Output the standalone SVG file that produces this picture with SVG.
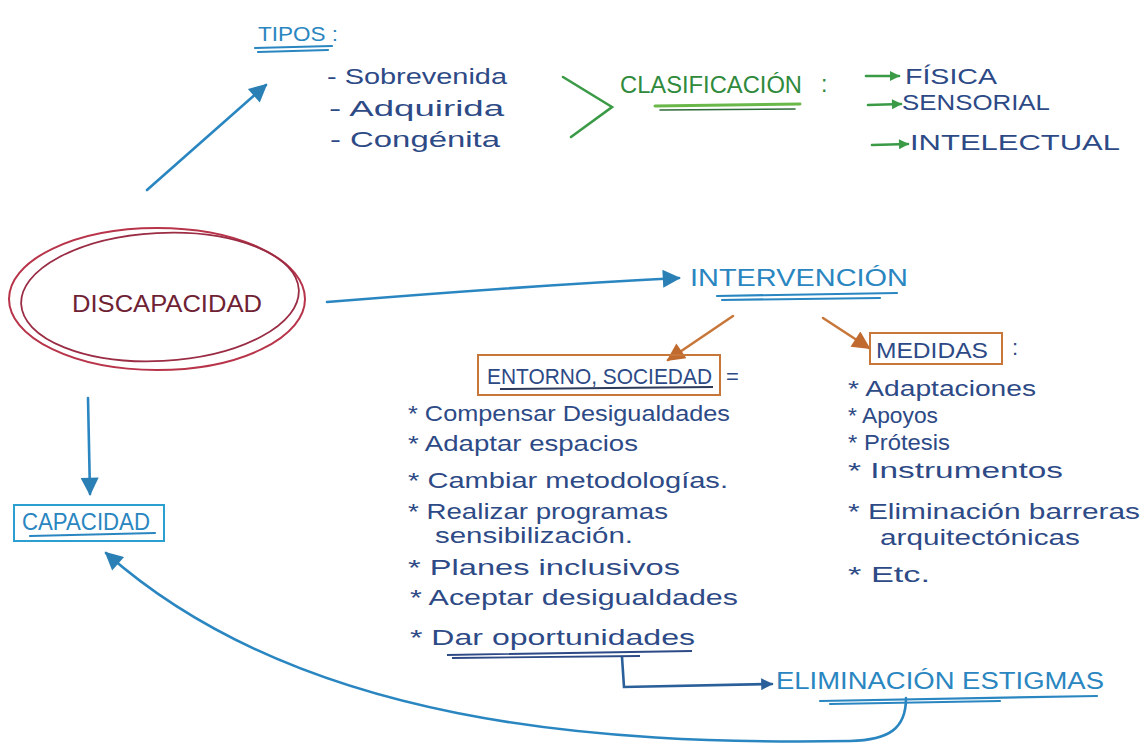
<svg xmlns="http://www.w3.org/2000/svg" width="1147" height="744" viewBox="0 0 1147 744">
<style>
text{font-family:"Liberation Sans","DejaVu Sans",sans-serif}
.nv{fill:#2d4a86;font-size:22px}
.bl{fill:#2a86c0;font-size:23px}
.gr{fill:#2f8a3c;font-size:23px}
.ul{fill:none;stroke:#2a86c0;stroke-width:2.2;stroke-linecap:round}
.cn{fill:none;stroke:#2a86c0;stroke-width:2.6;stroke-linecap:round}
.or{fill:none;stroke:#c8773a;stroke-width:2.6;stroke-linecap:round}
.gn{fill:none;stroke:#3a9a45;stroke-width:2.6;stroke-linecap:round}
</style>
<defs>
<marker id="ab" viewBox="0 0 10 10" refX="9" refY="5" markerWidth="20" markerHeight="18" markerUnits="userSpaceOnUse" orient="auto"><path d="M0,0 L10,5 L0,10 z" fill="#2a7fb5"/></marker>
<marker id="ao" viewBox="0 0 10 10" refX="9" refY="5" markerWidth="20" markerHeight="18" markerUnits="userSpaceOnUse" orient="auto"><path d="M0,0 L10,5 L0,10 z" fill="#c06a30"/></marker>
<marker id="ag" viewBox="0 0 10 10" refX="9" refY="5" markerWidth="12" markerHeight="10" markerUnits="userSpaceOnUse" orient="auto"><path d="M0,0 L10,5 L0,10 z" fill="#3a9a45"/></marker>
<marker id="ad" viewBox="0 0 10 10" refX="9" refY="5" markerWidth="16" markerHeight="12" markerUnits="userSpaceOnUse" orient="auto"><path d="M0,0 L10,5 L0,10 z" fill="#2a5f9a"/></marker>
</defs>
<rect width="1147" height="744" fill="#ffffff"/>

<g id="connectors">
<path class="cn" d="M147,190 L266,85" marker-end="url(#ab)"/>
<path class="cn" d="M327,302 C450,292 560,284 679,278" marker-end="url(#ab)"/>
<path class="cn" d="M88,398 L90,494" marker-end="url(#ab)"/>
<path class="cn" d="M906,698 C906,728 890,740 850,741 C600,745 300,725 106,553" marker-end="url(#ab)"/>
<path class="or" d="M733,316 L668,360" marker-end="url(#ao)"/>
<path class="or" d="M823,318 L869,348" marker-end="url(#ao)"/>
<path fill="none" stroke="#2a5f9a" stroke-width="2.6" stroke-linecap="round" d="M622,657 L624,687 L772,684" marker-end="url(#ad)"/>
<path class="gn" d="M866,76 L899,76" marker-end="url(#ag)"/>
<path class="gn" d="M868,105 L901,104" marker-end="url(#ag)"/>
<path class="gn" d="M872,145 L908,144" marker-end="url(#ag)"/>
</g>

<g id="tipos">
<text x="258" y="41" fill="#2a86c0" font-size="20" textLength="80" lengthAdjust="spacingAndGlyphs">TIPOS :</text>
<path class="ul" d="M255,48 L332,46 M258,52 L328,50"/>
<text class="nv" x="327" y="84" textLength="180" lengthAdjust="spacingAndGlyphs">- Sobrevenida</text>
<text class="nv" x="329" y="116" textLength="175" lengthAdjust="spacingAndGlyphs">- Adquirida</text>
<text class="nv" x="330" y="147" textLength="170" lengthAdjust="spacingAndGlyphs">- Congénita</text>
</g>

<g id="clasificacion">
<path class="gn" d="M563,77 L612,107 L571,137"/>
<text class="gr" x="620" y="93" textLength="182" lengthAdjust="spacingAndGlyphs">CLASIFICACIÓN</text>
<text class="gr" x="821" y="92" font-size="20">:</text>
<path d="M655,106 L800,104" stroke="#6ab84a" stroke-width="3" fill="none" stroke-linecap="round"/>
<path d="M660,110 L795,109" stroke="#2f6a3a" stroke-width="1.6" fill="none" stroke-linecap="round"/>
</g>
<g id="fisica"><text class="nv" x="905" y="84" font-size="20" textLength="92" lengthAdjust="spacingAndGlyphs">FÍSICA</text></g>
<g id="sensorial"><text class="nv" x="902" y="110" font-size="20" textLength="148" lengthAdjust="spacingAndGlyphs">SENSORIAL</text></g>
<g id="intelectual"><text class="nv" x="910" y="150" font-size="20" textLength="210" lengthAdjust="spacingAndGlyphs">INTELECTUAL</text></g>

<g id="discapacidad">
<ellipse cx="157" cy="299" rx="148" ry="71" fill="none" stroke="#b8344a" stroke-width="2"/>
<ellipse cx="160" cy="297" rx="139" ry="64" fill="none" stroke="#9a2c44" stroke-width="1.8" transform="rotate(-3 160 297)"/>
<text x="72" y="312" fill="#6e2233" font-size="24" textLength="190" lengthAdjust="spacingAndGlyphs">DISCAPACIDAD</text>
</g>

<g id="intervencion">
<text class="bl" x="690" y="286" textLength="218" lengthAdjust="spacingAndGlyphs">INTERVENCIÓN</text>
<path class="ul" d="M717,296 L897,293 M722,300 L880,298"/>
</g>

<g id="entorno">
<rect x="478" y="355" width="242" height="40" fill="none" stroke="#c8773a" stroke-width="2"/>
<text class="nv" x="487" y="384" textLength="225" lengthAdjust="spacingAndGlyphs">ENTORNO, SOCIEDAD</text>
<path d="M500,389 L713,387" stroke="#2d3a5a" stroke-width="2" fill="none"/>
<text class="nv" x="726" y="384">=</text>
<text class="nv" x="408" y="421" textLength="322" lengthAdjust="spacingAndGlyphs">* Compensar Desigualdades</text>
<text class="nv" x="408" y="451" textLength="230" lengthAdjust="spacingAndGlyphs">* Adaptar espacios</text>
<text class="nv" x="408" y="488" textLength="320" lengthAdjust="spacingAndGlyphs">* Cambiar metodologías.</text>
<text class="nv" x="408" y="519" textLength="260" lengthAdjust="spacingAndGlyphs">* Realizar programas</text>
<text class="nv" x="435" y="543" textLength="198" lengthAdjust="spacingAndGlyphs">sensibilización.</text>
<text class="nv" x="408" y="575" textLength="272" lengthAdjust="spacingAndGlyphs">* Planes inclusivos</text>
<text class="nv" x="410" y="605" textLength="328" lengthAdjust="spacingAndGlyphs">* Aceptar desigualdades</text>
<text class="nv" x="410" y="645" textLength="285" lengthAdjust="spacingAndGlyphs">* Dar oportunidades</text>
<path d="M447,655 L692,651 M452,658 L640,656" stroke="#2d4a86" stroke-width="1.8" fill="none"/>
</g>

<g id="medidas">
<rect x="870" y="333" width="132" height="31" fill="none" stroke="#c8773a" stroke-width="2"/>
<text class="nv" x="876" y="358" textLength="112" lengthAdjust="spacingAndGlyphs">MEDIDAS</text>
<text class="nv" x="1012" y="355">:</text>
<text class="nv" x="848" y="396" textLength="188" lengthAdjust="spacingAndGlyphs">* Adaptaciones</text>
<text class="nv" x="848" y="423" textLength="90" lengthAdjust="spacingAndGlyphs">* Apoyos</text>
<text class="nv" x="848" y="450" textLength="102" lengthAdjust="spacingAndGlyphs">* Prótesis</text>
<text class="nv" x="848" y="478" textLength="215" lengthAdjust="spacingAndGlyphs">* Instrumentos</text>
<text class="nv" x="848" y="519" textLength="292" lengthAdjust="spacingAndGlyphs">* Eliminación barreras</text>
<text class="nv" x="880" y="545" textLength="200" lengthAdjust="spacingAndGlyphs">arquitectónicas</text>
<text class="nv" x="848" y="582" textLength="82" lengthAdjust="spacingAndGlyphs">* Etc.</text>
</g>

<g id="capacidad">
<rect x="14" y="505" width="150" height="36" fill="none" stroke="#2a9fd0" stroke-width="2"/>
<text class="bl" x="22" y="530" font-size="20" textLength="128" lengthAdjust="spacingAndGlyphs">CAPACIDAD</text>
<path class="ul" d="M30,536 L155,533"/>
</g>

<g id="eliminacion">
<text class="bl" x="776" y="689" textLength="328" lengthAdjust="spacingAndGlyphs">ELIMINACIÓN ESTIGMAS</text>
<path class="ul" d="M820,701 L1097,696 M830,704 L1000,701"/>
</g>
</svg>
